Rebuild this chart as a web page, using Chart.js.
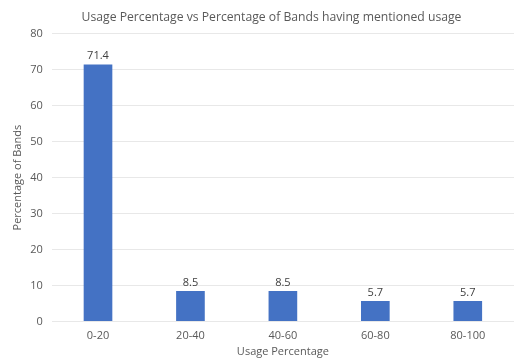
<!DOCTYPE html>
<html>
<head>
<meta charset="utf-8">
<script src="https://cdn.jsdelivr.net/npm/chart.js@4.4.0/dist/chart.umd.min.js"></script>
<style>
  body { margin: 0; background: #fff; }
  #wrap { width: 514px; height: 360px; }
</style>
</head>
<body>
<div id="wrap"><canvas id="chart" width="514" height="360"></canvas></div>
<script>
const categories = ["0-20", "20-40", "40-60", "60-80", "80-100"];
const bandPercent = [71.4, 8.5, 8.5, 5.7, 5.7];
const yTicks = [0, 10, 20, 30, 40, 50, 60, 70, 80];

const textColor = "#595959";
const fontFamily = "'Open Sans', 'Liberation Sans', sans-serif";

// draws the value above each bar
const barLabels = {
  id: "barLabels",
  afterDatasetsDraw(chart) {
    const ctx = chart.ctx;
    const meta = chart.getDatasetMeta(0);
    ctx.save();
    ctx.fillStyle = "#404040";
    ctx.font = "11px " + fontFamily;
    ctx.textAlign = "center";
    ctx.textBaseline = "bottom";
    meta.data.forEach((bar, i) => {
      ctx.fillText(bandPercent[i].toFixed(1), bar.x, bar.y - 3);
    });
    ctx.restore();
  }
};

const ctx = document.getElementById("chart").getContext("2d");
const chart = new Chart(ctx, {
  type: "bar",
  data: {
    labels: categories,
    datasets: [{
      data: bandPercent,
      backgroundColor: "#4472C4",
      barPercentage: 0.31,
      categoryPercentage: 1
    }]
  },
  options: {
    responsive: false,
    animation: false,
    // extra left padding centres the title over the plot; the y title padding takes it back
    layout: { padding: { left: 29, right: 0, top: 10, bottom: 2 } },
    plugins: {
      legend: { display: false },
      tooltip: { enabled: false },
      title: {
        display: true,
        text: "Usage Percentage vs Percentage of Bands having mentioned usage",
        color: textColor,
        font: { family: fontFamily, size: 12.2, weight: "normal" },
        padding: { top: 0, bottom: 9 }
      }
    },
    scales: {
      x: {
        grid: { display: false, drawTicks: false },
        border: { display: false },
        ticks: { color: textColor, font: { family: fontFamily, size: 11 }, padding: 8 },
        title: {
          display: true,
          text: "Usage Percentage",
          color: textColor,
          font: { family: fontFamily, size: 11 },
          padding: { top: -6, bottom: 0 }
        }
      },
      y: {
        min: 0,
        max: 80,
        afterBuildTicks(axis) {
          axis.ticks = yTicks.map(v => ({ value: v }));
        },
        grid: { color: "#e8e8e8", drawTicks: false },
        border: { display: false },
        ticks: { color: textColor, font: { family: fontFamily, size: 11 }, padding: 9 },
        title: {
          display: true,
          text: "Percentage of Bands",
          color: textColor,
          font: { family: fontFamily, size: 11 },
          padding: { top: -18, bottom: -3 }
        }
      }
    }
  },
  plugins: [barLabels]
});
</script>
</body>
</html>
